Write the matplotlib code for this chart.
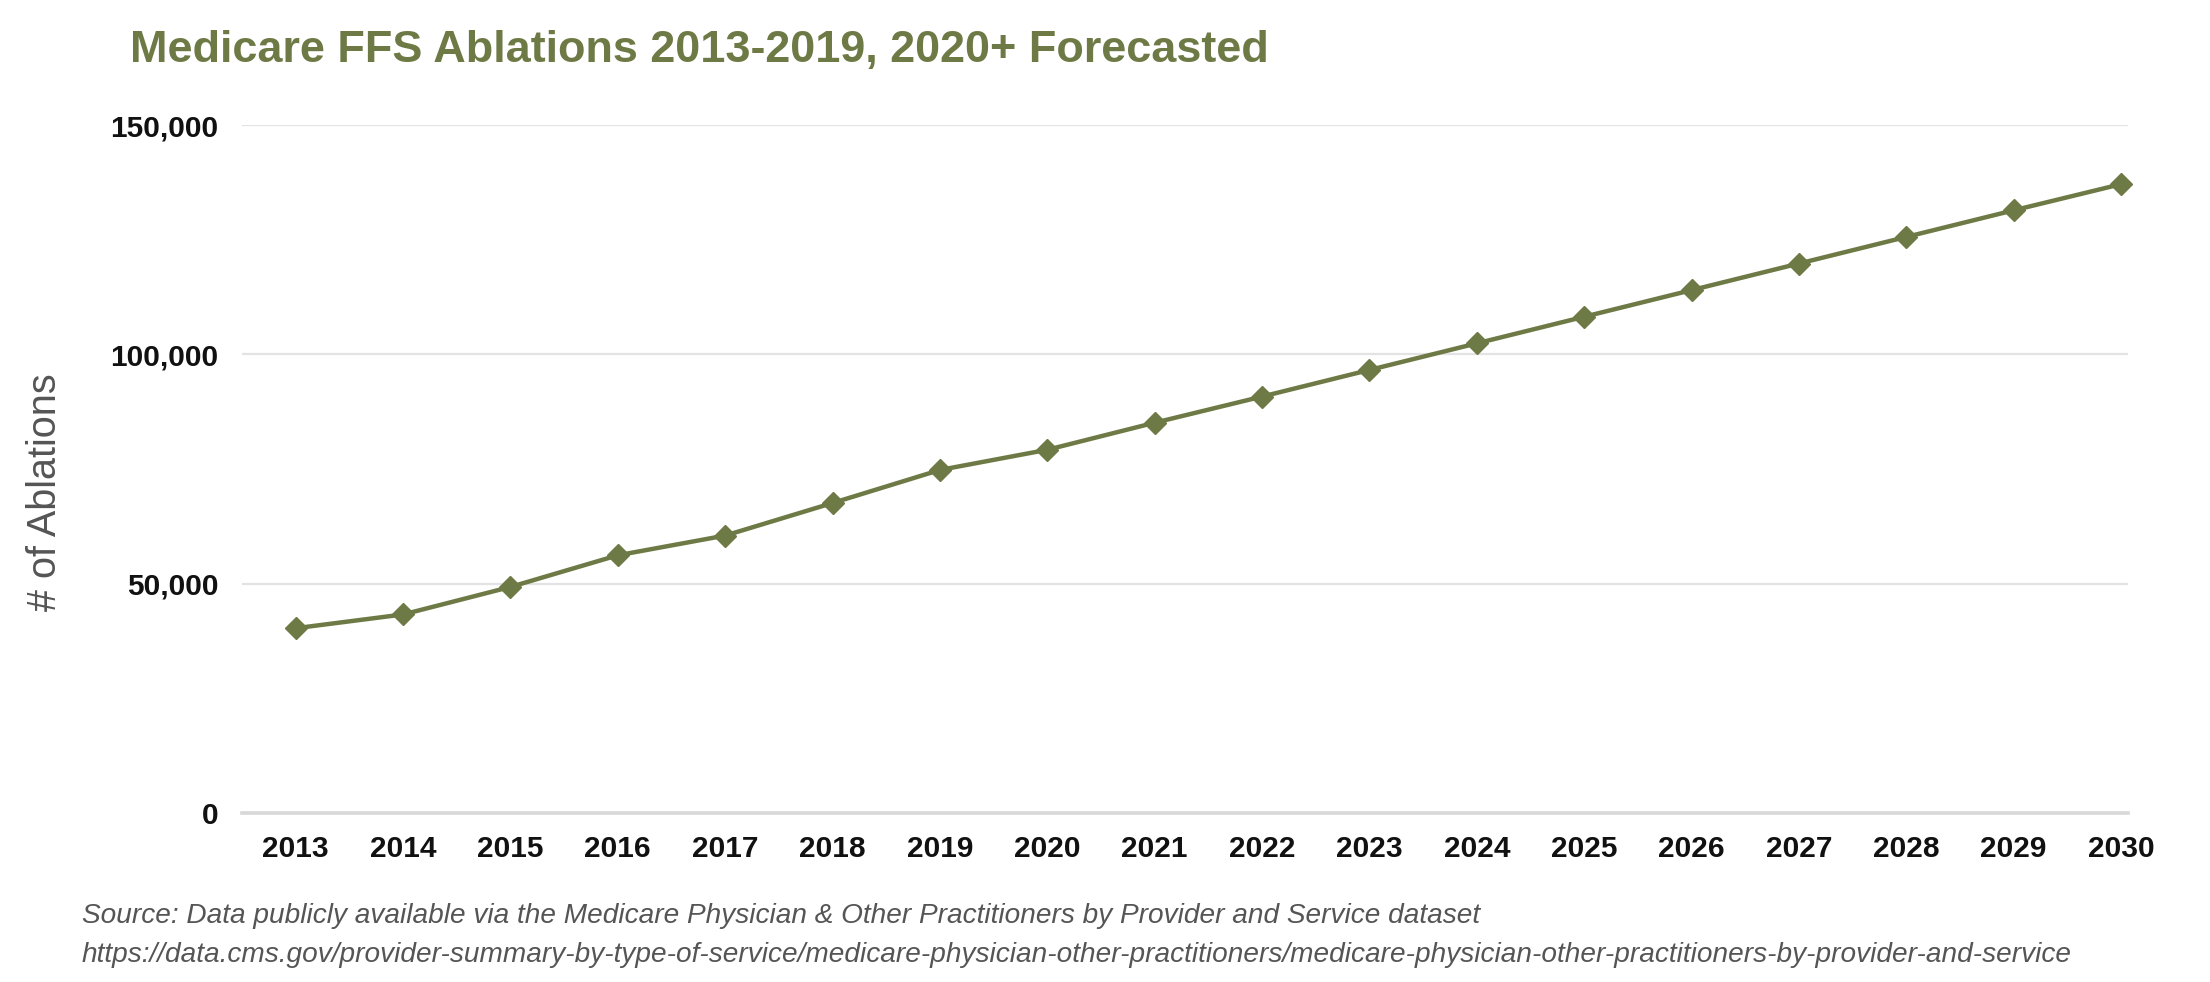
import numpy as np
import matplotlib.pyplot as plt
from matplotlib.ticker import FuncFormatter

years = ['2013', '2014', '2015', '2016', '2017', '2018', '2019', '2020', '2021',
         '2022', '2023', '2024', '2025', '2026', '2027', '2028', '2029', '2030']
ablations = [40300, 43300, 49300, 56200, 60500, 67600, 74800, 79200, 85100,
             90800, 96600, 102400, 108200, 114000, 119800, 125600, 131400, 137100]
y_ticks = [0, 50000, 100000, 150000]

olive = '#6e7a45'
plt.rcParams['font.family'] = ['Liberation Sans', 'DejaVu Sans']

fig = plt.figure(figsize=(22.1, 9.82), dpi=100)
ax = fig.add_axes([0.1095, 0.172, 0.8534, 0.7007])

x = np.arange(len(years))
ax.plot(x, ablations, color=olive, lw=3.2, marker='D', ms=11.5, mec=olive, mfc=olive,
        zorder=3, clip_on=False)

ax.set_xlim(-0.5, len(years) - 0.935)
ax.set_ylim(0, 150000)
ax.set_yticks(y_ticks)
ax.yaxis.set_major_formatter(FuncFormatter(lambda v, p: f'{int(v):,}'))
ax.set_xticks(x)
ax.set_xticklabels(years)

for v in y_ticks:
    if v == 0:
        ax.axhline(v, color='#d8d8d8', lw=2.6, zorder=1, clip_on=False)
    else:
        ax.axhline(v, color='#e3e3e3', lw=1.6, zorder=1)

for s in ax.spines.values():
    s.set_visible(False)
ax.tick_params(axis='both', length=0, labelsize=21.5, colors='#111111')
ax.tick_params(axis='y', pad=17)
ax.tick_params(axis='x', pad=16)
for lab in ax.get_xticklabels() + ax.get_yticklabels():
    lab.set_fontweight('bold')

fig.text(0.059, 0.949, 'Medicare FFS Ablations 2013-2019, 2020+ Forecasted',
         fontsize=32.4, fontweight='bold', color=olive, va='center', ha='left')
fig.text(0.0204, 0.499, '# of Ablations', rotation=90, fontsize=28.5,
         color='#555555', va='center', ha='center')

fig.text(0.037, 0.067, 'Source: Data publicly available via the Medicare Physician & Other Practitioners by Provider and Service dataset',
         fontsize=20.2, style='italic', color='#555555', va='center', ha='left')
fig.text(0.037, 0.028, 'https://data.cms.gov/provider-summary-by-type-of-service/medicare-physician-other-practitioners/medicare-physician-other-practitioners-by-provider-and-service',
         fontsize=20.2, style='italic', color='#555555', va='center', ha='left')

fig.savefig('out.png', dpi=100)
